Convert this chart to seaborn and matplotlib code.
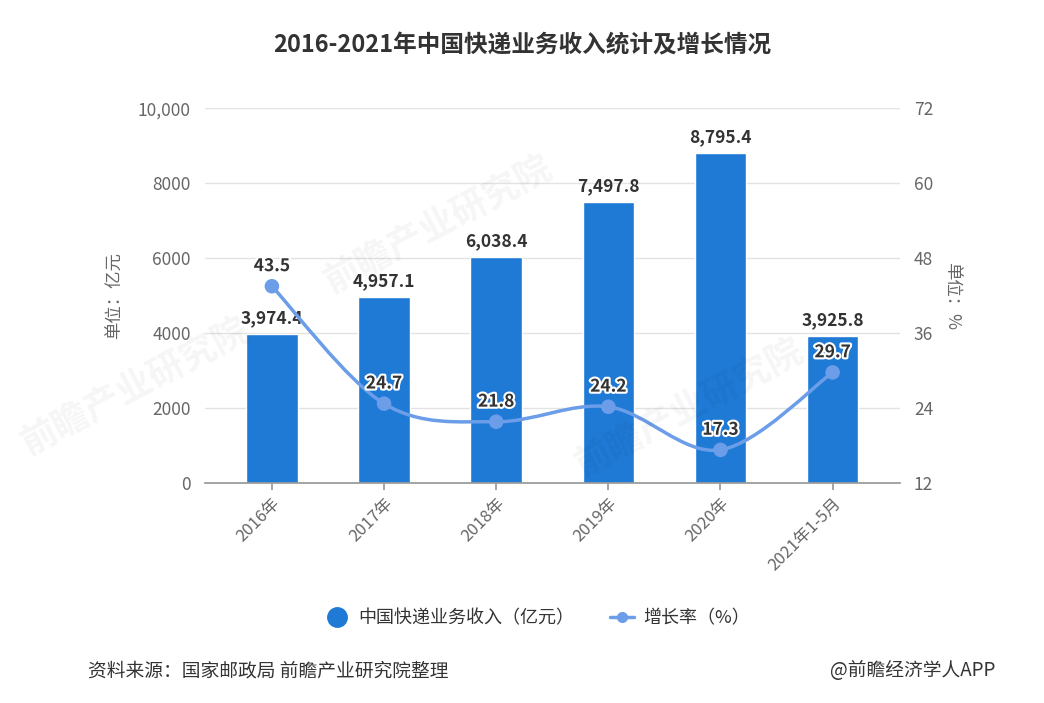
import matplotlib
matplotlib.use("Agg")
import matplotlib.pyplot as plt
import matplotlib.patheffects as pe
from matplotlib.path import Path
from matplotlib.patches import PathPatch
from matplotlib.lines import Line2D
import seaborn as sns
import pandas as pd

# ---- data ----
categories = ["2016年", "2017年", "2018年", "2019年", "2020年", "2021年1-5月"]
revenue = [3974.4, 4957.1, 6038.4, 7497.8, 8795.4, 3925.8]   # 亿元
growth = [43.5, 24.7, 21.8, 24.2, 17.3, 29.7]                # %
left_ticks = [0, 2000, 4000, 6000, 8000, 10000]
left_tick_labels = ["0", "2000", "4000", "6000", "8000", "10,000"]
right_ticks = [12, 24, 36, 48, 60, 72]

BAR_BLUE = "#1f7ad6"
LINE_BLUE = "#6b9de8"
GRAY = "#666666"
DARK = "#333333"

sns.set_theme(style="white")
plt.rcParams["font.family"] = ["Noto Sans CJK SC", "DejaVu Sans"]

df = pd.DataFrame({"cat": categories, "revenue": revenue, "growth": growth})

fig = plt.figure(figsize=(10.44, 7.03), dpi=100)
ax = fig.add_axes([0.196, 0.313, 0.666, 0.533])

sns.barplot(data=df, x="cat", y="revenue", color=BAR_BLUE, width=0.46,
            saturation=1, ax=ax, zorder=2)
ax.set_xlim(-0.6, 5.6)
ax.set_ylim(0, 10000)
ax.set_yticks(left_ticks)
ax.set_yticklabels(left_tick_labels)
ax.yaxis.grid(True, color="#e3e3e3", linewidth=1)
ax.set_axisbelow(True)
for s in ["top", "right", "left"]:
    ax.spines[s].set_visible(False)
ax.spines["bottom"].set_color("#999999")
ax.tick_params(axis="y", length=0, labelsize=12.5, labelcolor=GRAY, pad=10)
ax.tick_params(axis="x", length=5, color="#999999", labelsize=12,
               labelcolor=GRAY, direction="out", bottom=True)
plt.setp(ax.get_xticklabels(), rotation=45, ha="right", rotation_mode="anchor")
ax.set_xlabel("")
ax.set_ylabel("单位：亿元", color=GRAY, fontsize=12.5, labelpad=10)

ax.bar_label(ax.containers[0], labels=[f"{v:,.1f}" for v in revenue],
             padding=5, fontsize=12.5, fontweight="bold", color=DARK)

# ---- growth line on the right axis ----
ax2 = ax.twinx()
ax2.set_ylim(12, 72)
ax2.set_yticks(right_ticks)
for s in ["top", "right", "left", "bottom"]:
    ax2.spines[s].set_visible(False)
ax2.tick_params(axis="y", length=0, labelsize=12.5, labelcolor=GRAY, pad=10)
ax2.set_ylabel("单位：%", color=GRAY, fontsize=12.5, rotation=270, labelpad=20)
ax2.grid(False)

# smooth curve through the points (Catmull-Rom as cubic Bezier)
pts = list(zip(range(len(growth)), growth))
verts = [pts[0]]
codes = [Path.MOVETO]
for i in range(len(pts) - 1):
    p0 = pts[i - 1] if i > 0 else pts[i]
    p1, p2 = pts[i], pts[i + 1]
    p3 = pts[i + 2] if i + 2 < len(pts) else pts[i + 1]
    c1 = (p1[0] + (p2[0] - p0[0]) / 6, p1[1] + (p2[1] - p0[1]) / 6)
    c2 = (p2[0] - (p3[0] - p1[0]) / 6, p2[1] - (p3[1] - p1[1]) / 6)
    verts += [c1, c2, p2]
    codes += [Path.CURVE4] * 3
ax2.add_patch(PathPatch(Path(verts, codes), facecolor="none",
                        edgecolor=LINE_BLUE, linewidth=2.5, zorder=3))
sns.scatterplot(x=list(range(len(growth))), y=growth, color=LINE_BLUE, s=110,
                edgecolor="none", ax=ax2, zorder=4, legend=False)

for i, g in enumerate(growth):
    ax2.annotate(f"{g}", (i, g), xytext=(0, 8), textcoords="offset points",
                 ha="center", va="bottom", fontsize=12.5, fontweight="bold",
                 color=DARK,
                 path_effects=[pe.withStroke(linewidth=3, foreground="white")])

# ---- faint watermarks ----
for (x, y, rot) in [(0.42, 0.68, 28), (0.66, 0.42, 28), (0.13, 0.45, 28)]:
    fig.text(x, y, "前瞻产业研究院", fontsize=26, color="#000000", alpha=0.04,
             rotation=rot, ha="center", va="center", fontweight="bold")

# ---- title, legend, footer ----
fig.text(0.5, 0.936, "2016-2021年中国快递业务收入统计及增长情况",
         ha="center", va="center", fontsize=17, fontweight="bold", color=DARK)

handles = [
    Line2D([], [], marker="o", linestyle="none", markersize=14,
           markerfacecolor=BAR_BLUE, markeredgecolor=BAR_BLUE),
    Line2D([], [], marker="o", color=LINE_BLUE, linewidth=2.5, markersize=7),
]
fig.legend(handles, ["中国快递业务收入（亿元）", "增长率（%）"],
           loc="center", bbox_to_anchor=(0.515, 0.121), ncol=2, frameon=False,
           fontsize=13, handlelength=1.3, handletextpad=0.5,
           columnspacing=2.0, labelcolor=DARK)

fig.text(0.084, 0.046, "资料来源：国家邮政局 前瞻产业研究院整理",
         ha="left", va="center", fontsize=13.5, color=DARK)
fig.text(0.953, 0.046, "@前瞻经济学人APP",
         ha="right", va="center", fontsize=13.5, color=DARK)

fig.savefig("out.png", dpi=100)
